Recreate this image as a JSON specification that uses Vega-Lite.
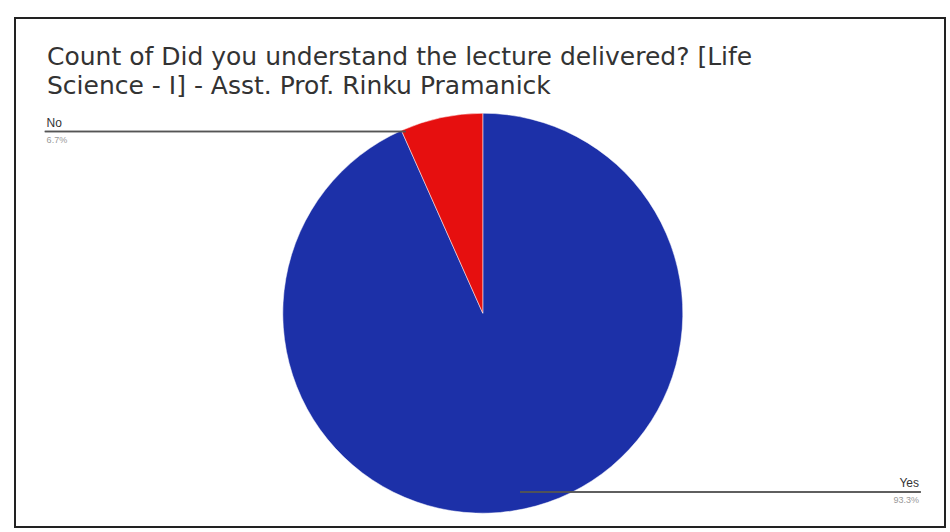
{
  "$schema": "https://vega.github.io/schema/vega-lite/v6.json",
  "width": 950,
  "height": 532,
  "autosize": {"type": "fit", "contains": "padding"},
  "padding": {"left": 15, "top": 18, "right": 5, "bottom": 5},
  "background": "white",
  "config": {"view": {"stroke": "#222222", "strokeWidth": 2}, "font": "Liberation Sans"},
  "title": {
    "text": ["Count of Did you understand the lecture delivered? [Life", "Science - I] - Asst. Prof. Rinku Pramanick"],
    "anchor": "start",
    "frame": "group",
    "orient": "top",
    "offset": -81,
    "dx": 32,
    "fontSize": 25,
    "fontWeight": "normal",
    "color": "#333333",
    "font": "DejaVu Sans",
    "lineHeight": 29
  },
  "data": {"values": [
    {"answer": "Yes", "count": 14, "pct": "93.3%"},
    {"answer": "No", "count": 1, "pct": "6.7%"}
  ]},
  "layer": [
    {
      "mark": {"type": "arc", "radius": 200, "stroke": "white", "strokeWidth": 0.5},
      "encoding": {
        "theta": {"field": "count", "type": "quantitative", "stack": true},
        "order": {"field": "answer", "sort": "descending"},
        "color": {"field": "answer", "type": "nominal", "scale": {"domain": ["Yes", "No"], "range": ["#1c30a8", "#e60f0f"]}, "legend": null},
        "x": {"datum": 50.3, "type": "quantitative", "scale": {"domain": [0, 100]}, "axis": null},
        "y": {"datum": 58.0, "type": "quantitative", "scale": {"domain": [0, 100], "reverse": true}, "axis": null}
      }
    },
    {
      "mark": {"type": "rule", "color": "#555555", "strokeWidth": 1.5},
      "encoding": {
        "x": {"datum": 3.2, "type": "quantitative"},
        "x2": {"datum": 42},
        "y": {"datum": 22.3, "type": "quantitative"}
      }
    },
    {
      "mark": {"type": "rule", "color": "#555555", "strokeWidth": 1.5},
      "encoding": {
        "x": {"datum": 54.3, "type": "quantitative"},
        "x2": {"datum": 97.4},
        "y": {"datum": 93.1, "type": "quantitative"}
      }
    },
    {
      "transform": [{"filter": "datum.answer == 'No'"}],
      "mark": {"type": "text", "align": "left", "baseline": "bottom", "fontSize": 12, "color": "#333333", "dy": -2},
      "encoding": {
        "text": {"field": "answer"},
        "x": {"datum": 3.4, "type": "quantitative"},
        "y": {"datum": 22.3, "type": "quantitative"}
      }
    },
    {
      "transform": [{"filter": "datum.answer == 'No'"}],
      "mark": {"type": "text", "align": "left", "baseline": "top", "fontSize": 9, "color": "#999999", "dy": 4},
      "encoding": {
        "text": {"field": "pct"},
        "x": {"datum": 3.4, "type": "quantitative"},
        "y": {"datum": 22.3, "type": "quantitative"}
      }
    },
    {
      "transform": [{"filter": "datum.answer == 'Yes'"}],
      "mark": {"type": "text", "align": "right", "baseline": "bottom", "fontSize": 12, "color": "#333333", "dy": -2},
      "encoding": {
        "text": {"field": "answer"},
        "x": {"datum": 97.2, "type": "quantitative"},
        "y": {"datum": 93.1, "type": "quantitative"}
      }
    },
    {
      "transform": [{"filter": "datum.answer == 'Yes'"}],
      "mark": {"type": "text", "align": "right", "baseline": "top", "fontSize": 9, "color": "#999999", "dy": 4},
      "encoding": {
        "text": {"field": "pct"},
        "x": {"datum": 97.2, "type": "quantitative"},
        "y": {"datum": 93.1, "type": "quantitative"}
      }
    }
  ]
}
